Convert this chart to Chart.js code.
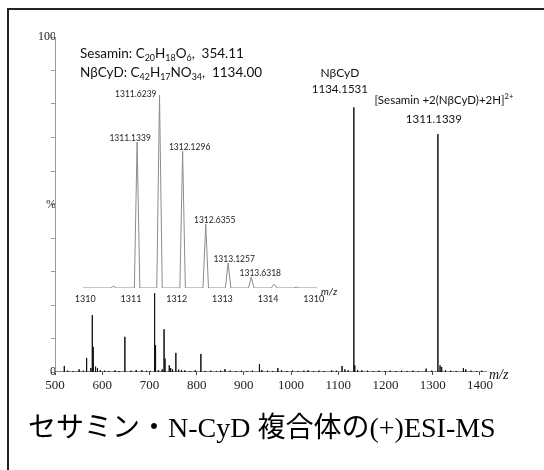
<!DOCTYPE html>
<html>
<head>
<meta charset="utf-8">
<script src="https://cdn.jsdelivr.net/npm/chart.js@4"></script>
<style>
  html, body { margin: 0; padding: 0; background: #fff; }
  #wrap { position: relative; width: 544px; height: 470px; overflow: hidden; }
  #frame { position: absolute; left: 7px; top: 8px; width: 600px; height: 600px;
           border-top: 2px solid #222; border-left: 2px solid #222; }
  canvas { position: absolute; left: 0; top: 0; }
  #inset { pointer-events: none; }
</style>
</head>
<body>
<div id="wrap">
  <div id="frame"></div>
  <canvas id="main" width="544" height="470"></canvas>
  <canvas id="inset" width="544" height="470"></canvas>
</div>
<script>
// 主谱：m/z 与相对强度 (%)
const mainMz = [519.7, 527, 538, 551, 560, 567, 576, 579, 581, 586, 590, 596, 605, 614, 627, 636, 648, 661, 672, 684,
  694, 702, 711, 713, 719, 727, 731, 733, 742, 745, 749, 756, 762, 768, 775, 786, 797, 809, 818, 830,
  842, 851, 860, 871, 883, 895, 906, 918, 933, 938, 950, 961, 972, 980, 991, 1003, 1015, 1027, 1036, 1048,
  1059, 1070, 1086, 1096, 1108, 1114, 1121, 1133, 1135, 1141, 1150, 1162, 1174, 1186, 1199, 1210, 1222, 1234, 1246, 1258,
  1270, 1286, 1298, 1311, 1315.6, 1319, 1327, 1338, 1350, 1365, 1370, 1381, 1393, 1404];
const mainInt = [1.8, 0.4, 0.3, 0.8, 0.4, 4.2, 1.2, 17, 7.5, 1.6, 1.2, 0.5, 0.4, 0.3, 0.5, 0.3, 10.5, 0.4, 0.6, 0.5,
  0.4, 0.3, 23.5, 8, 0.6, 0.8, 12.8, 4, 2, 1.2, 0.8, 5.7, 0.7, 0.6, 0.5, 0.3, 0.5, 5.4, 0.3, 0.4,
  0.3, 0.4, 0.9, 0.4, 0.3, 0.4, 0.3, 0.4, 2.4, 0.6, 0.4, 0.3, 1.2, 0.5, 0.3, 0.4, 0.3, 0.4, 0.5, 0.3,
  0.4, 0.3, 0.5, 0.4, 1.8, 0.8, 0.5, 79, 2, 0.6, 0.5, 0.4, 0.3, 0.4, 0.3, 0.4, 0.3, 0.4, 0.3, 0.4,
  0.3, 1, 0.4, 71, 2, 1.5, 0.5, 0.4, 0.3, 1.2, 0.8, 0.4, 0.3, 0.4];

// 插图：同位素峰
const insetMz = [1310.62, 1311.1339, 1311.6239, 1312.1296, 1312.6355, 1313.1257, 1313.6318, 1314.13, 1314.62];
const insetInt = [1, 75.6, 100, 71, 33.2, 13, 5.7, 2, 0.5];
const insetLabeled = ['1311.1339', '1311.6239', '1312.1296', '1312.6355', '1313.1257', '1313.6318'];
const insetTickLabels = ['1310', '1311', '1312', '1313', '1314', '1310'];

const SERIF = "'Liberation Serif', 'Times New Roman', serif";
const SANS = "Lato, 'Noto Sans', sans-serif";

/** 主谱线：每个峰画成竖线，峰间沿基线连接 */
function stickPoints(mz, inten, lo, hi) {
  const pts = [{ x: lo, y: 0 }];
  mz.forEach((m, i) => { pts.push({ x: m, y: 0 }, { x: m, y: inten[i] }, { x: m, y: 0 }); });
  pts.push({ x: hi, y: 0 });
  return pts;
}

/** 插图峰：窄三角 */
function peakPoints(mz, inten, lo, hi, hw) {
  const pts = [{ x: lo, y: 0 }];
  mz.forEach((m, i) => { pts.push({ x: m - hw, y: 0 }, { x: m, y: inten[i] }, { x: m + hw, y: 0 }); });
  pts.push({ x: hi, y: 0 });
  return pts;
}

/** 带上下标的文字 parts: [text, 0 普通 | 1 下标 | 2 上标] */
function drawRich(ctx, parts, x, y, size, family, align) {
  const fontOf = (mode) => (mode ? size * 0.66 : size) + 'px ' + family;
  let w = 0;
  parts.forEach(([t, mode]) => { ctx.font = fontOf(mode); w += ctx.measureText(t).width; });
  let cx = align === 'center' ? x - w / 2 : x;
  ctx.textAlign = 'left';
  ctx.textBaseline = 'alphabetic';
  parts.forEach(([t, mode]) => {
    ctx.font = fontOf(mode);
    const dy = mode === 1 ? size * 0.22 : mode === 2 ? -size * 0.42 : 0;
    ctx.fillText(t, cx, y + dy);
    cx += ctx.measureText(t).width;
  });
}

const mainText = {
  id: 'mainText',
  afterDraw(chart) {
    const { ctx, scales: { x, y } } = chart;
    ctx.save();
    ctx.fillStyle = '#111';

    drawRich(ctx, [['Sesamin: C', 0], ['20', 1], ['H', 0], ['18', 1], ['O', 0], ['6', 1], [',  354.11', 0]], 80, 58, 13.5, SANS);
    drawRich(ctx, [['NβCyD: C', 0], ['42', 1], ['H', 0], ['17', 1], ['NO', 0], ['34', 1], [',  1134.00', 0]], 80, 77, 13.5, SANS);

    const p1 = x.getPixelForValue(1133), t1 = y.getPixelForValue(79);
    drawRich(ctx, [['NβCyD', 0]], p1 - 14, t1 - 30, 12, SANS, 'center');
    drawRich(ctx, [['1134.1531', 0]], p1 - 14, t1 - 14, 11.5, SANS, 'center');

    const p2 = x.getPixelForValue(1311), t2 = y.getPixelForValue(71);
    drawRich(ctx, [['[Sesamin +2(NβCyD)+2H]', 0], ['2+', 2]], p2 + 6, t2 - 30, 11.5, SANS, 'center');
    drawRich(ctx, [['1311.1339', 0]], p2 - 4, t2 - 11, 11.5, SANS, 'center');

    ctx.font = 'italic 14px ' + SERIF;
    ctx.textAlign = 'left';
    ctx.fillText('m/z', x.right + 2, y.bottom + 7);

    ctx.font = "28px 'Liberation Serif', 'Noto Sans CJK JP', serif";
    ctx.fillStyle = '#000';
    ctx.fillText('セサミン・N-CyD 複合体の(+)ESI-MS', 28, 437);
    ctx.restore();
  },
};

new Chart(document.getElementById('main'), {
  type: 'line',
  data: {
    datasets: [{
      data: stickPoints(mainMz, mainInt, 500, 1415),
      borderColor: '#111',
      borderWidth: 1,
      pointRadius: 0,
      tension: 0,
    }],
  },
  options: {
    responsive: false,
    animation: false,
    layout: { padding: { left: 0, right: 57, top: 37, bottom: 68 } },
    plugins: { legend: { display: false }, tooltip: { enabled: false } },
    scales: {
      x: {
        type: 'linear',
        min: 500,
        max: 1415,
        afterFit: (s) => { s.height = 30; },
        border: { display: false },
        grid: { drawOnChartArea: false, tickLength: 3, color: '#444' },
        ticks: {
          stepSize: 100,
          includeBounds: false,
          maxRotation: 0,
          padding: 3,
          color: '#222',
          font: { family: SERIF, size: 13 },
          callback: (v) => String(v),
        },
      },
      y: {
        min: 0,
        max: 100,
        afterFit: (s) => { s.width = 55; },
        border: { display: true, color: '#9a9a9a' },
        grid: { drawOnChartArea: false, tickLength: 4, color: '#9a9a9a' },
        ticks: {
          stepSize: 10,
          padding: -5,
          color: '#222',
          font: { family: SERIF, size: 12 },
          callback: (v) => (v === 100 ? '100' : v === 50 ? '%' : v === 0 ? '0' : ''),
        },
      },
    },
  },
  plugins: [mainText],
});

const insetText = {
  id: 'insetText',
  afterDraw(chart) {
    const { ctx, scales: { x, y } } = chart;
    ctx.save();
    ctx.fillStyle = '#222';
    const dx = [-7, 0, 7, 9, 6, 9];
    insetLabeled.forEach((lab, i) => {
      const k = insetMz.indexOf(parseFloat(lab));
      const px = x.getPixelForValue(insetMz[k]);
      const py = y.getPixelForValue(insetInt[k]);
      ctx.font = '8.5px ' + SANS;
      ctx.textBaseline = 'alphabetic';
      if (i === 1) {
        ctx.textAlign = 'right';
        ctx.fillText(lab, px - 3, py + 2);
      } else {
        ctx.textAlign = 'center';
        ctx.fillText(lab, px + dx[i], py - 1);
      }
    });
    ctx.font = 'italic 10px ' + SANS;
    ctx.textAlign = 'left';
    ctx.fillText('m/z', x.right + 4, y.bottom + 7);
    ctx.restore();
  },
};

new Chart(document.getElementById('inset'), {
  type: 'line',
  data: {
    datasets: [{
      data: peakPoints(insetMz, insetInt, 1309.95, 1315.07, 0.06),
      borderColor: '#8c8c8c',
      borderWidth: 1,
      pointRadius: 0,
      tension: 0,
    }],
  },
  options: {
    responsive: false,
    animation: false,
    layout: { padding: { left: 83, right: 227, top: 95, bottom: 152 } },
    plugins: { legend: { display: false }, tooltip: { enabled: false } },
    scales: {
      x: {
        type: 'linear',
        min: 1309.95,
        max: 1315.07,
        afterFit: (s) => { s.height = 30; },
        border: { display: false },
        grid: { display: false, drawTicks: false },
        ticks: {
          stepSize: 1,
          includeBounds: false,
          maxRotation: 0,
          padding: 6,
          color: '#222',
          font: { family: SANS, size: 9 },
          callback: (v, i) => insetTickLabels[i],
        },
      },
      y: { display: false, min: 0, max: 100 },
    },
  },
  plugins: [insetText],
});
</script>
</body>
</html>
